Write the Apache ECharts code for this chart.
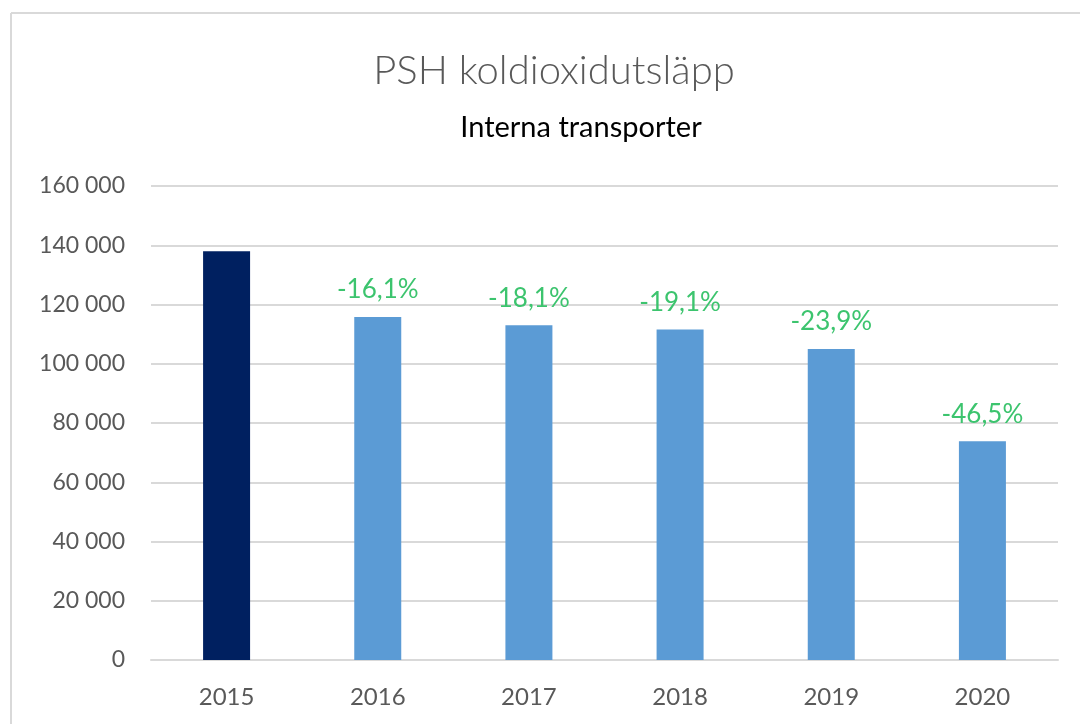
<!DOCTYPE html>
<html>
<head>
<meta charset="utf-8">
<script src="https://cdn.jsdelivr.net/npm/echarts@6/dist/echarts.min.js"></script>
<style>
  html, body { margin: 0; padding: 0; background: #fff; }
  #chart { width: 1080px; height: 724px; }
</style>
</head>
<body>
<div id="chart"></div>
<script>
// data
var years = ['2015', '2016', '2017', '2018', '2019', '2020'];
var emissions = [138000, 115800, 113000, 111600, 105000, 73800];
var changeLabels = ['', '-16,1%', '-18,1%', '-19,1%', '-23,9%', '-46,5%'];
var barColors = ['#002060', '#5b9bd5', '#5b9bd5', '#5b9bd5', '#5b9bd5', '#5b9bd5'];

var chart = echarts.init(document.getElementById('chart'));

var seriesData = emissions.map(function (v, i) {
    return {
        value: v,
        itemStyle: { color: barColors[i] },
        label: { show: changeLabels[i] !== '', formatter: changeLabels[i] }
    };
});

var option = {
    animation: false,
    textStyle: { fontFamily: 'Lato' },
    title: [
        {
            text: 'PSH koldioxidutsläpp',
            left: 549,
            textAlign: 'center',
            top: 46,
            textStyle: { fontFamily: 'Lato', fontSize: 40, fontWeight: 300, color: '#595959' }
        },
        {
            text: 'Interna transporter',
            left: 576,
            textAlign: 'center',
            top: 108,
            textStyle: { fontFamily: 'Lato', fontSize: 29, fontWeight: 'normal', color: '#000' }
        }
    ],
    graphic: [
        { type: 'line', shape: { x1: 11, y1: 13, x2: 1080, y2: 13 }, style: { stroke: '#d9d9d9', lineWidth: 2 } },
        { type: 'line', shape: { x1: 11, y1: 13, x2: 11, y2: 724 }, style: { stroke: '#d9d9d9', lineWidth: 2 } }
    ],
    grid: { left: 151, right: 22, top: 186, bottom: 64 },
    xAxis: {
        type: 'category',
        data: years,
        axisLine: { lineStyle: { color: '#d9d9d9', width: 2 } },
        axisTick: { show: false },
        axisLabel: { color: '#595959', fontSize: 24, margin: 25 }
    },
    yAxis: {
        type: 'value',
        min: 0,
        max: 160000,
        interval: 20000,
        axisLine: { show: false },
        axisTick: { show: false },
        splitLine: { lineStyle: { color: '#d9d9d9', width: 2 } },
        axisLabel: {
            color: '#595959',
            fontSize: 23,
            margin: 26,
            formatter: function (v) {
                return String(v).replace(/\B(?=(\d{3})+(?!\d))/g, ' ');
            }
        }
    },
    series: [
        {
            type: 'bar',
            barWidth: 47,
            data: seriesData,
            label: {
                position: 'top',
                distance: 14,
                color: '#3cc46e',
                fontSize: 26
            }
        }
    ]
};
chart.setOption(option);
</script>
</body>
</html>
